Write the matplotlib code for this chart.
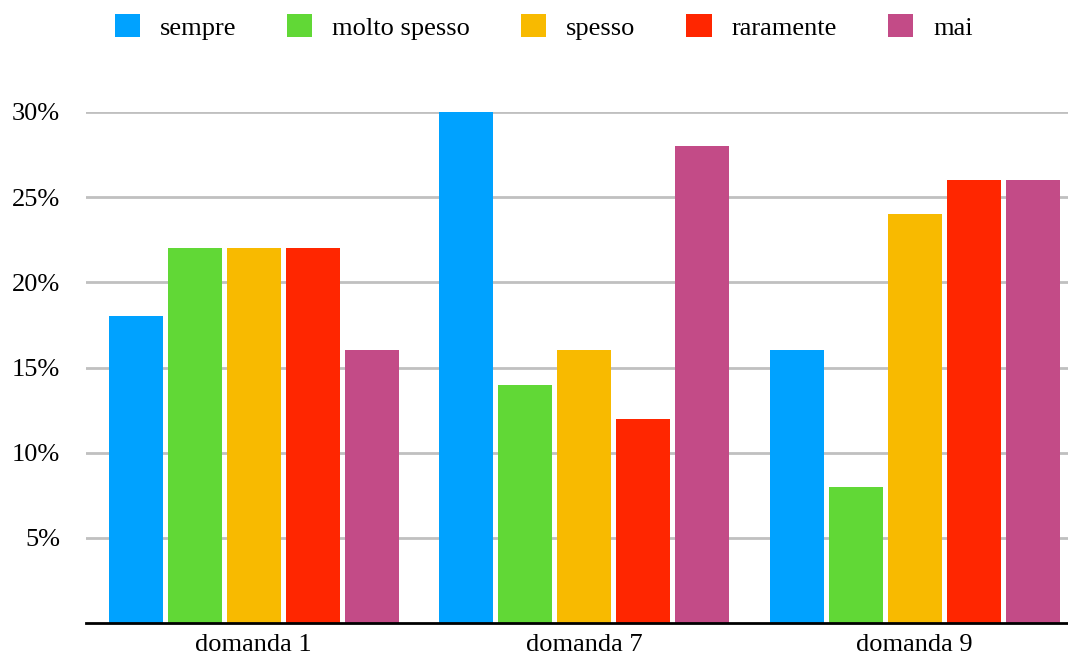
import numpy as np
import matplotlib
matplotlib.use("Agg")
import matplotlib.pyplot as plt
from matplotlib.ticker import FuncFormatter

plt.rcParams["font.family"] = ["Liberation Serif", "DejaVu Serif"]

categories = ["domanda 1", "domanda 7", "domanda 9"]
series_names = ["sempre", "molto spesso", "spesso", "raramente", "mai"]
sempre = [18, 30, 16]
molto_spesso = [22, 14, 8]
spesso = [22, 16, 24]
raramente = [22, 12, 26]
mai = [16, 28, 26]
colors = ["#00a2ff", "#61d836", "#f8ba00", "#ff2600", "#c34b87"]

values = [sempre, molto_spesso, spesso, raramente, mai]

fig = plt.figure(figsize=(10.68, 6.6), dpi=100)
ax = fig.add_axes([86 / 1068, 37 / 660, 982 / 1068, 511 / 660])

x = np.arange(len(categories))
step = 0.1785
width = 0.163
for i, (name, vals, c) in enumerate(zip(series_names, values, colors)):
    ax.bar(x + (i - 2) * step, vals, width, color=c, label=name, zorder=3)

ax.set_xlim(-0.507, 2.464)
ax.set_ylim(0, 30)
ax.set_yticks([5, 10, 15, 20, 25, 30])
ax.yaxis.set_major_formatter(FuncFormatter(lambda v, _: f"{v:.0f}%"))
ax.set_xticks(x)
ax.set_xticklabels(categories)
ax.tick_params(axis="both", length=0, labelsize=19)
ax.tick_params(axis="y", pad=18.5)
ax.tick_params(axis="x", pad=8)
ax.grid(axis="y", color="#c0c0c0", linewidth=2, zorder=0)

for side in ["top", "right", "left"]:
    ax.spines[side].set_visible(False)
ax.spines["bottom"].set_linewidth(2)
ax.spines["bottom"].set_zorder(4)

fig.legend(loc="center", bbox_to_anchor=(0.509, 0.959), ncol=5,
           frameon=False, fontsize=19, handlelength=0.95, handleheight=0.95,
           handletextpad=0.76, columnspacing=1.93, borderpad=0)

fig.savefig("out.png", dpi=100)
